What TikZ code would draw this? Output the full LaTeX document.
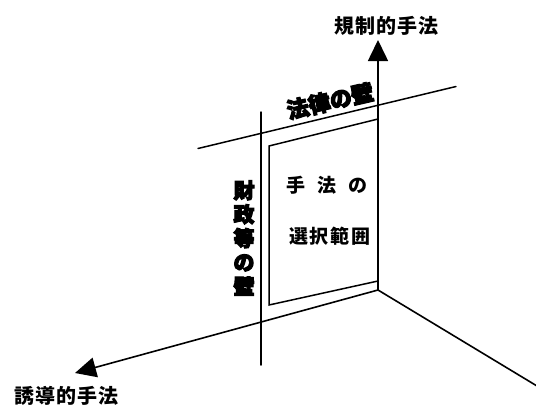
\documentclass[tikz,border=0pt]{standalone}
\usepackage{fontspec}
\usetikzlibrary{arrows.meta}
\newfontfamily\cjk{Noto Sans CJK JP}
\newfontfamily\cjkheavy[FakeBold=5]{Noto Sans CJK JP}
\newcommand{\heavy}{\cjkheavy\bfseries}
\begin{document}
\begin{tikzpicture}[x=1pt,y=-1pt,
  ln/.style={line width=1.5pt,line cap=round},
  axis/.style={line width=1.6pt},
  tip/.style={-{Triangle[length=21pt,width=20pt]}},
  lbl/.style={inner sep=0pt,font=\cjk\bfseries\fontsize{20}{20}\selectfont},
  inner/.style={inner sep=0pt,font=\cjk\bfseries\fontsize{19}{19}\selectfont},
  wall/.style={inner sep=0pt,font=\heavy\fontsize{21}{21}\selectfont}]
\useasboundingbox (0,0) rectangle (536,405);
% coordinates
\coordinate (O) at (378,290);
\coordinate (Ytip) at (378,40);
\coordinate (Xtip) at (75,373);
\coordinate (Zend) at (537,386);
\coordinate (R1) at (269,146);
\coordinate (R2) at (378,119);
\coordinate (R3) at (378,281);
\coordinate (R4) at (269,305);
\coordinate (L1) at (198,148.5);
\coordinate (L2) at (456,86.5);
\coordinate (F1) at (261,112);
\coordinate (F2) at (261,365);
% walls
\draw[ln] (L1) -- (L2);
\draw[ln] (F1) -- (F2);
% selection rectangle
\draw[ln,line join=miter] (R2) -- (R1) -- (R4) -- (R3);
% axes
\draw[axis,tip] (O) -- (Ytip);
\draw[axis,tip] (O) -- (Xtip);
\draw[axis] (O) -- (Zend);
% labels
\node[lbl] (ylab) at (386.5,25.5) {規\hspace{1pt}制\hspace{1pt}的\hspace{1pt}手\hspace{1pt}法};
\node[lbl] (xlab) at (67,395.5) {誘\hspace{1pt}導\hspace{1pt}的\hspace{1pt}手\hspace{1pt}法};
\node[wall,rotate=13,font=\heavy\fontsize{22}{22}\selectfont] (law) at (330,101) {法律の壁};
\node[wall,align=center] (fin) at (244,238) {財\\[3pt]政\\[3pt]等\\[3pt]の\\[3pt]壁};
\node[inner] (in1) at (327,185) {手\hspace{12pt}法\hspace{12pt}の};
\node[inner] (in2) at (330,236) {選\hspace{2pt}択\hspace{2pt}範\hspace{2pt}囲};
\end{tikzpicture}
\end{document}
